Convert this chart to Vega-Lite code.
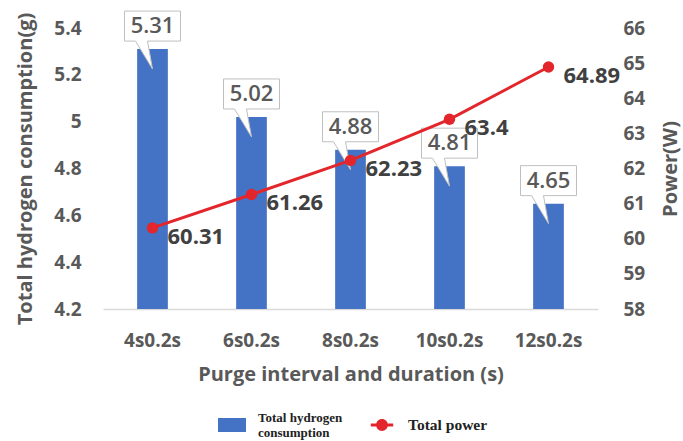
{
  "$schema": "https://vega.github.io/schema/vega-lite/v6.json",
  "width": 495,
  "height": 281,
  "autosize": {"type": "none"},
  "padding": {"left": 103, "top": 28, "right": 85, "bottom": 132},
  "background": "white",
  "config": {
    "view": {"stroke": null},
    "font": "Open Sans",
    "axis": {
      "labelFont": "Open Sans",
      "labelFontWeight": "bold",
      "labelColor": "#595959",
      "titleFont": "Open Sans",
      "titleFontWeight": "bold",
      "titleColor": "#595959",
      "grid": false,
      "ticks": false
    }
  },
  "data": {
    "values": [
      {"purge": "4s0.2s", "h2": 5.31, "power": 60.31},
      {"purge": "6s0.2s", "h2": 5.02, "power": 61.26},
      {"purge": "8s0.2s", "h2": 4.88, "power": 62.23},
      {"purge": "10s0.2s", "h2": 4.81, "power": 63.4},
      {"purge": "12s0.2s", "h2": 4.65, "power": 64.89}
    ]
  },
  "encoding": {
    "x": {
      "field": "purge",
      "type": "nominal",
      "sort": null,
      "scale": {"paddingInner": 0.69, "paddingOuter": 0.345},
      "axis": {
        "title": "Purge interval and duration (s)",
        "labelAngle": 0,
        "labelFontSize": 19,
        "labelPadding": 22,
        "titleFontSize": 20,
        "titlePadding": 14,
        "domainColor": "#d9d9d9",
        "domainWidth": 1.5
      }
    }
  },
  "layer": [
    {
      "encoding": {
        "y": {
          "field": "h2",
          "type": "quantitative",
          "scale": {"domain": [4.2, 5.4], "zero": false, "nice": false},
          "axis": {
            "title": "Total hydrogen consumption(g)",
            "orient": "left",
            "values": [4.2, 4.4, 4.6, 4.8, 5, 5.2, 5.4],
            "format": "~g",
            "domain": false,
            "labelFontSize": 19,
            "labelPadding": 22,
            "titleFontSize": 20,
            "titlePadding": 18
          }
        }
      },
      "layer": [
        {
          "mark": {"type": "bar", "color": "#4472C4"},
          "encoding": {
            "y2": {"datum": 4.2},
            "color": {
              "datum": "Total hydrogen consumption",
              "scale": {
                "domain": ["Total hydrogen consumption", "Total power"],
                "range": ["#4472C4", "#E3262B"]
              },
              "legend": {
                "title": null,
                "orient": "none",
                "direction": "horizontal",
                "legendX": 115,
                "legendY": 382,
                "symbolSize": 784,
                "symbolStrokeWidth": 0,
                "clipHeight": 30,
                "labelOffset": 12,
                "columnPadding": 25,
                "labelFont": "Liberation Serif",
                "labelFontWeight": "bold",
                "labelColor": "#222222",
                "labelLimit": 200,
                "encode": {
                  "symbols": {
                    "update": {
                      "shape": {"signal": "datum.value === 'Total power' ? 'M-0.8,-0.11 L0.8,-0.11 L0.8,0.11 L-0.8,0.11 Z M-0.42,0 A0.42,0.42 0 1,1 0.42,0 A0.42,0.42 0 1,1 -0.42,0 Z' : 'M-1,-0.5 L1,-0.5 L1,0.5 L-1,0.5 Z'"},
                      "fill": {"scale": "color", "field": "value"},
                      "stroke": {"value": "transparent"},
                      "opacity": {"value": 1}
                    }
                  },
                  "labels": {
                    "update": {
                      "text": {"signal": "datum.value === 'Total power' ? 'Total power' : ['Total hydrogen', 'consumption']"},
                      "fontSize": {"signal": "datum.value === 'Total power' ? 15.5 : 13"},
                      "dy": {"signal": "datum.value === 'Total power' ? 0 : -7"}
                    }
                  }
                }
              }
            }
          }
        },
        {
          "mark": {
            "type": "point",
            "shape": "M-0.9333,-1.2667 L0.9333,-1.2667 L0.9333,-0.2667 L-0.1667,-0.2667 L0,0.6667 L-0.5667,-0.2667 L-0.9333,-0.2667 Z",
            "size": 3600,
            "filled": true,
            "fill": "white",
            "stroke": "#bfbfbf",
            "strokeWidth": 1,
            "opacity": 1
          }
        },
        {
          "mark": {
            "type": "text",
            "dy": -23,
            "fontSize": 22,
            "fontWeight": 600,
            "color": "#595959",
            "baseline": "middle"
          },
          "encoding": {"text": {"field": "h2", "type": "quantitative"}}
        }
      ]
    },
    {
      "encoding": {
        "y": {
          "field": "power",
          "type": "quantitative",
          "scale": {"domain": [58, 66], "zero": false, "nice": false},
          "axis": {
            "title": "Power(W)",
            "orient": "right",
            "values": [58, 59, 60, 61, 62, 63, 64, 65, 66],
            "domain": false,
            "labelFontSize": 19,
            "labelPadding": 25,
            "titleFontSize": 20,
            "titlePadding": 16,
            "titleAngle": -90,
            "titleBaseline": "top"
          }
        }
      },
      "layer": [
        {
          "mark": {
            "type": "line",
            "strokeWidth": 3,
            "point": {"filled": true, "size": 130, "opacity": 1}
          },
          "encoding": {"color": {"datum": "Total power"}}
        },
        {
          "mark": {
            "type": "text",
            "align": "left",
            "dx": 15,
            "dy": 9,
            "fontSize": 22,
            "fontWeight": "bold",
            "color": "#404040",
            "baseline": "middle"
          },
          "encoding": {"text": {"field": "power", "type": "quantitative"}}
        }
      ]
    }
  ],
  "resolve": {"scale": {"y": "independent"}}
}
